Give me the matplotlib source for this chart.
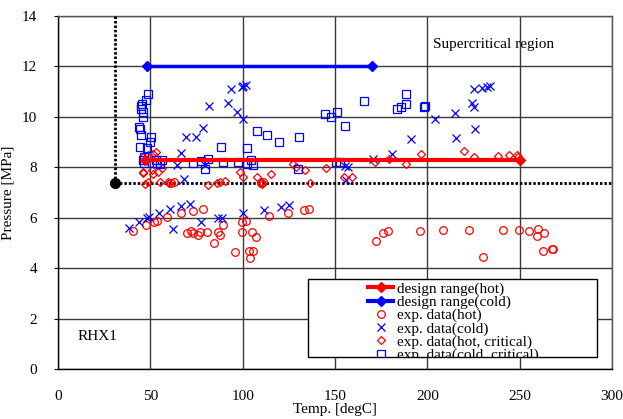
import matplotlib
matplotlib.use("Agg")
import matplotlib.pyplot as plt
from matplotlib.patches import Rectangle
from matplotlib.lines import Line2D

plt.rcParams['font.family'] = ['Liberation Serif', 'DejaVu Serif']

# ---- data ----
hot_T = [40.8, 47.6, 52.2, 53.4, 59.2, 66.4, 73.3, 78.3, 70.0, 71.8, 73.3, 75.6, 76.9, 80.5, 84.5,
         86.8, 87.7, 89.2, 99.5, 101.8, 99.5, 105.2, 107.0, 95.7, 103.6, 105.7, 104.0, 114.4, 124.7,
         133.2, 136.1, 172.0, 176.1, 178.8, 196.0, 208.3, 222.7, 240.8, 230.3, 249.8, 254.8, 259.7,
         259.5, 263.3, 262.8, 267.3, 267.8, 61.0, 63.0, 110.0, 111.2]
hot_P = [5.47, 5.71, 5.82, 5.88, 6.02, 6.18, 6.27, 6.33, 5.38, 5.49, 5.41, 5.32, 5.45, 5.45, 5.01,
         5.45, 5.32, 5.71, 5.84, 5.88, 5.42, 5.42, 5.22, 4.63, 4.69, 4.69, 4.39, 6.07, 6.20,
         6.31, 6.35, 5.08, 5.38, 5.47, 5.49, 5.51, 5.51, 5.51, 4.45, 5.51, 5.49, 5.55,
         5.28, 5.38, 4.69, 4.75, 4.76, 7.36, 7.40, 7.38, 7.42]

cold_T = [38.4, 44.0, 48.0, 49.4, 54.7, 60.6, 66.4, 71.5, 62.1, 77.4, 86.5, 88.6, 100.3, 111.5, 120.6,
          125.1, 93.7, 99.8, 100.3, 101.6, 82.0, 92.2, 96.7, 100.0, 78.7, 69.1, 74.5, 66.6, 64.4,
          68.4, 79.6, 204.1, 214.9, 225.4, 229.4, 232.1, 233.9, 224.0, 225.4, 215.5, 225.8, 191.1,
          180.7, 170.6, 155.4, 156.8, 156.2]
cold_P = [5.58, 5.82, 5.98, 6.02, 6.18, 6.33, 6.47, 6.55, 5.55, 5.82, 5.98, 5.98, 6.18, 6.31, 6.44,
          6.51, 11.09, 11.20, 11.23, 11.27, 10.43, 10.54, 10.21, 9.92, 9.57, 9.20, 9.20, 8.55, 8.08,
          7.54, 8.09, 9.90, 10.17, 11.09, 11.16, 11.20, 11.24, 10.54, 10.40, 9.15, 9.51, 9.12,
          8.53, 8.33, 8.05, 8.00, 7.50]

hotc_T = [46.2, 53.1, 46.2, 50.7, 54.3, 56.1, 47.1, 48.9, 55.2, 59.4, 60.3, 46.2, 51.6, 81.4, 85.9,
          87.7, 90.6, 98.3, 100.3, 107.6, 109.9, 110.5, 115.5, 127.4, 129.0, 133.7, 136.4, 145.1,
          155.0, 159.3, 171.6, 179.2, 188.4, 196.5, 219.6, 225.2, 238.1, 244.0, 248.7, 248.9,
          51.6, 48.5]
hotc_P = [8.42, 8.62, 7.83, 7.89, 7.83, 7.96, 7.33, 7.43, 7.43, 7.43, 7.39, 7.79, 7.73, 7.30, 7.37,
          7.40, 7.46, 7.80, 7.60, 7.60, 7.43, 7.35, 7.74, 8.12, 8.00, 7.89, 7.39, 7.99,
          7.60, 7.60, 8.22, 8.33, 8.13, 8.52, 8.66, 8.42, 8.45, 8.49, 8.49, 8.42,
          8.53, 8.50]

coldc_T = [48.9, 47.5, 45.3, 44.8, 45.0, 45.9, 46.2, 44.0, 44.4, 44.9, 50.4, 49.8, 44.4, 48.0, 46.6,
           46.2, 46.7, 52.9, 56.1, 55.2, 50.7, 53.4, 72.9, 77.4, 81.4, 79.6, 89.2, 97.6, 102.2,
           104.5, 105.5, 88.4, 102.3, 107.8, 113.3, 119.8, 130.5, 144.7, 147.7, 151.3, 155.5,
           165.7, 183.4, 186.0, 188.2, 188.3, 198.0, 198.5, 130.1, 150.5, 152.7]
coldc_P = [10.91, 10.67, 10.51, 10.43, 10.31, 10.21, 9.98, 9.61, 9.51, 9.28, 9.19, 8.99, 8.82, 8.75,
           8.40, 8.29, 8.18, 8.29, 8.29, 8.12, 8.16, 8.16, 8.16, 8.26, 8.33, 7.92, 8.20, 8.20, 8.13,
           8.29, 8.10, 8.79, 8.75, 9.45, 9.27, 9.00, 9.19, 10.11, 9.98, 10.18, 9.62,
           10.63, 10.31, 10.40, 10.50, 10.90, 10.40, 10.42, 7.92, 8.20, 8.20]

design_hot_T = [47, 250]
design_hot_P = [8.3, 8.3]
design_cold_T = [48, 170]
design_cold_P = [12.0, 12.0]

crit_T = 31.1
crit_P = 7.38

RED = '#ff0000'
BLUE = '#0000ff'
FS = 11

fig = plt.figure(figsize=(6.23, 4.19), dpi=100)
ax = fig.add_axes([58/623, 1-369/419, 554/623, 353/419])
ax.set_xlim(0, 300)
ax.set_ylim(0, 14)
ax.set_xticks(range(0, 301, 50))
ax.set_yticks(range(0, 15, 2))
ax.grid(True, color='#3a3a3a', lw=1.0)
ax.set_axisbelow(True)
for s in ax.spines.values():
    s.set_color('#555555')
    s.set_linewidth(1.0)
ax.spines['left'].set_color('black')
ax.spines['bottom'].set_color('black')
ax.tick_params(axis='x', length=0, pad=15, labelsize=FS)
ax.tick_params(axis='y', length=3, pad=12, labelsize=FS, direction='out')

# critical point lines
dot = (0, (0.9, 0.7))
ax.plot([crit_T, crit_T], [crit_P, 14], color='black', lw=2.0, ls=dot, zorder=3)
ax.plot([crit_T, 300], [crit_P, crit_P], color='black', lw=2.0, ls=dot, zorder=3)
ax.plot([crit_T], [crit_P], 'o', color='black', ms=7, zorder=4)

ms = 5.5
ax.plot(hot_T, hot_P, ls='none', marker='o', mfc='none', mec=RED, ms=ms, mew=0.9, zorder=3)
ax.plot(cold_T, cold_P, ls='none', marker='x', color=BLUE, ms=ms + 0.5, mew=0.9, zorder=3)
ax.plot(hotc_T, hotc_P, ls='none', marker='D', mfc='none', mec=RED, ms=ms - 1.0, mew=0.9, zorder=3)
ax.plot(coldc_T, coldc_P, ls='none', marker='s', mfc='none', mec=BLUE, ms=ms, mew=0.9, zorder=3)

ax.plot(design_hot_T, design_hot_P, color=RED, lw=3, marker='D', ms=5.5, zorder=4)
ax.plot(design_cold_T, design_cold_P, color=BLUE, lw=2.5, marker='D', ms=5.5, zorder=4)

ax.text(203, 12.85, 'Supercritical region', fontsize=FS, ha='left', va='center')
ax.text(10.8, 1.27, 'RHX1', fontsize=FS, ha='left', va='center')

ax.set_xlabel('Temp. [degC]', fontsize=FS, labelpad=0)
ax.set_ylabel('Pressure [MPa]', fontsize=FS, labelpad=5)

# legend box
rect = Rectangle((135.4, 0.48), 156.4, 3.09, fc='white', ec='black', lw=1.0, zorder=6)
ax.add_patch(rect)

handles = [
    Line2D([], [], color=RED, lw=3, marker='D', ms=5.5),
    Line2D([], [], color=BLUE, lw=3, marker='D', ms=5.5),
    Line2D([], [], ls='none', marker='o', mfc='none', mec=RED, ms=ms, mew=0.9),
    Line2D([], [], ls='none', marker='x', color=BLUE, ms=ms, mew=0.9),
    Line2D([], [], ls='none', marker='D', mfc='none', mec=RED, ms=ms - 1.0, mew=0.9),
    Line2D([], [], ls='none', marker='s', mfc='none', mec=BLUE, ms=ms, mew=0.9),
]
labels = ['design range(hot)', 'design range(cold)', 'exp. data(hot)', 'exp. data(cold)',
          'exp. data(hot, critical)', 'exp. data(cold, critical)']
leg = ax.legend(handles, labels, loc='upper left',
                bbox_to_anchor=((368 - 58) / 554, (369 - 282) / 353),
                frameon=False, fontsize=FS, borderpad=0, labelspacing=-0.04,
                handlelength=1.65, handletextpad=0.25, borderaxespad=0)
leg.set_zorder(7)
for t in leg.get_texts():
    t.set_clip_path(rect)
for h in leg.legend_handles:
    h.set_clip_path(rect)

fig.savefig('out.png', dpi=100)
